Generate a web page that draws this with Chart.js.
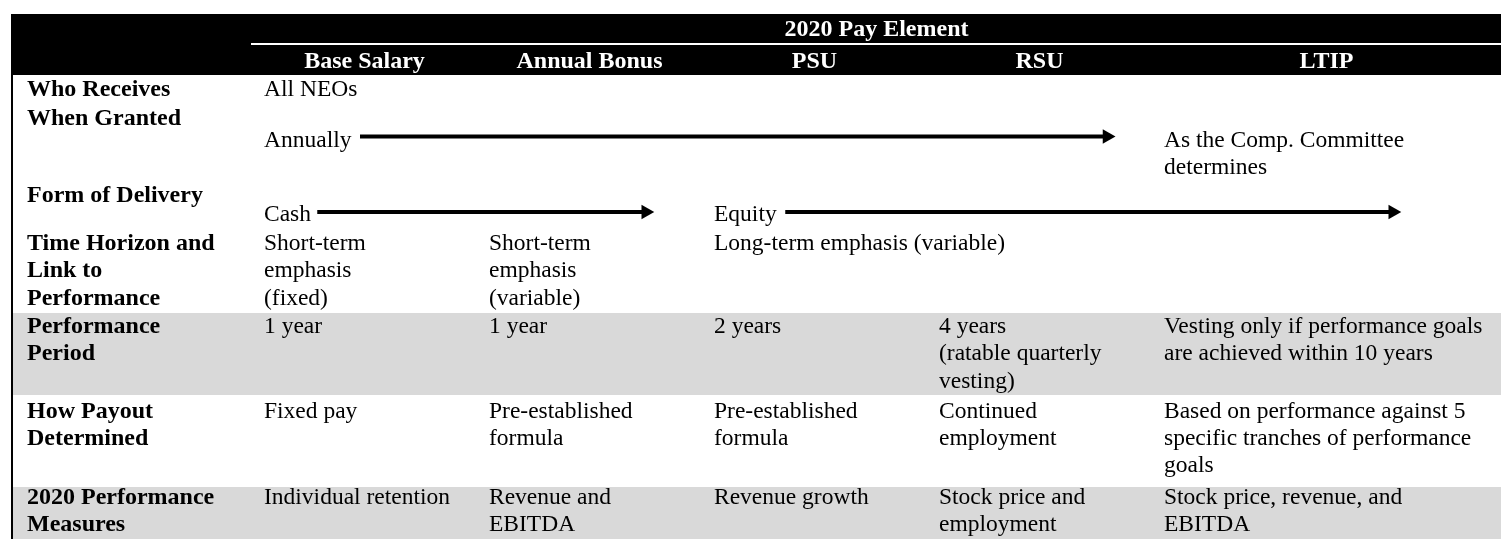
<!DOCTYPE html>
<html>
<head>
<meta charset="utf-8">
<script src="https://cdn.jsdelivr.net/npm/chart.js@4"></script>
<style>
  html, body { margin: 0; padding: 0; background: #fff; }
  #wrap { width: 1501px; height: 539px; }
</style>
</head>
<body>
<div id="wrap"><canvas id="chart" width="1501" height="539"></canvas></div>
<script>
// table content
const headerTitle = '2020 Pay Element';
const payElements = ['Base Salary', 'Annual Bonus', 'PSU', 'RSU', 'LTIP'];
const rowLabels = [
  ['Who Receives'],
  ['When Granted'],
  ['Form of Delivery'],
  ['Time Horizon and', 'Link to', 'Performance'],
  ['Performance', 'Period'],
  ['How Payout', 'Determined'],
  ['2020 Performance', 'Measures']
];
const whoReceives = [['All NEOs'], null, null, null, null];
const whenGranted = [['Annually'], null, null, null, ['As the Comp. Committee', 'determines']];
const formOfDelivery = [['Cash'], null, ['Equity'], null, null];
const timeHorizon = [['Short-term', 'emphasis', '(fixed)'], ['Short-term', 'emphasis', '(variable)'], ['Long-term emphasis (variable)'], null, null];
const performancePeriod = [['1 year'], ['1 year'], ['2 years'], ['4 years', '(ratable quarterly', 'vesting)'], ['Vesting only if performance goals', 'are achieved within 10 years']];
const howPayout = [['Fixed pay'], ['Pre-established', 'formula'], ['Pre-established', 'formula'], ['Continued', 'employment'], ['Based on performance against 5', 'specific tranches of performance', 'goals']];
const performanceMeasures = [['Individual retention'], ['Revenue and', 'EBITDA'], ['Revenue growth'], ['Stock price and', 'employment'], ['Stock price, revenue, and', 'EBITDA']];
const cellRows = [whoReceives, whenGranted, formOfDelivery, timeHorizon, performancePeriod, howPayout, performanceMeasures];

// arrows: which row, and from/to in pay-element column units
const arrowRows = [1, 2, 2];
const arrowFrom = [0.48, 0.29, 2.37];
const arrowTo = [3.80, 1.75, 5.07];

// layout (pixels on the y scale, column units on the x scale)
const LH = 27.4;
const X_MIN = -1.12, X_MAX = 5.5511, TABLE_LEFT = -1.0711;
const rowLayout = [
  { labelY: 96, cellY: 96 },
  { labelY: 124.5, cellY: 146.5, arrowY: 136.5 },
  { labelY: 202, cellY: 221, arrowY: 212 },
  { labelY: 250, cellY: 250 },
  { labelY: 333, cellY: 333, band: [313, 395] },
  { labelY: 417.5, cellY: 417.5 },
  { labelY: 503.5, cellY: 503.5, band: [487, 560] }
];
const FONT = '"Liberation Serif", "Times New Roman", serif';

const datasets = arrowRows.map((r, i) => ({
  data: [{ x: arrowFrom[i], y: rowLayout[r].arrowY }, { x: arrowTo[i], y: rowLayout[r].arrowY }],
  borderColor: '#000',
  backgroundColor: '#000',
  borderWidth: 4,
  pointStyle: 'triangle',
  pointRotation: 90,
  pointRadius: [0, 8.5],
  pointBorderWidth: 0,
  pointHoverRadius: [0, 8.5],
  pointBackgroundColor: '#000'
}));

const tablePlugin = {
  id: 'tablePlugin',
  beforeDatasetsDraw(chart) {
    const { ctx, scales: { x, y } } = chart;
    const left = x.getPixelForValue(TABLE_LEFT);
    const right = x.getPixelForValue(X_MAX);
    ctx.save();
    // grey bands
    ctx.fillStyle = '#d9d9d9';
    rowLayout.forEach(r => {
      if (!r.band) return;
      const t = y.getPixelForValue(r.band[0]);
      const b = y.getPixelForValue(Math.min(r.band[1], 539));
      ctx.fillRect(left, t, right - left, b - t);
    });
    // header band
    ctx.fillStyle = '#000';
    const hTop = y.getPixelForValue(14), hBot = y.getPixelForValue(75);
    ctx.fillRect(left, hTop, right - left, hBot - hTop);
    ctx.fillStyle = '#fff';
    const c0 = x.getPixelForValue(0) - 1;
    ctx.fillRect(c0, y.getPixelForValue(43), right - c0, 2);
    // left border
    ctx.fillStyle = '#000';
    ctx.fillRect(left, hBot, 2, y.getPixelForValue(539) - hBot);
    ctx.restore();
  },
  afterDraw(chart) {
    const { ctx, scales: { x, y } } = chart;
    ctx.save();
    ctx.textBaseline = 'alphabetic';
    // header text
    ctx.fillStyle = '#fff';
    ctx.font = 'bold 24px ' + FONT;
    ctx.textAlign = 'center';
    ctx.fillText(headerTitle, (x.getPixelForValue(0) + x.getPixelForValue(X_MAX)) / 2, y.getPixelForValue(36));
    payElements.forEach((p, i) => {
      const end = i === payElements.length - 1 ? X_MAX : i + 1;
      ctx.fillText(p, (x.getPixelForValue(i) + x.getPixelForValue(end)) / 2, y.getPixelForValue(67.5));
    });
    // row labels and cells
    ctx.fillStyle = '#000';
    ctx.textAlign = 'left';
    rowLabels.forEach((lines, r) => {
      ctx.font = 'bold 24px ' + FONT;
      lines.forEach((s, k) => {
        ctx.fillText(s, x.getPixelForValue(TABLE_LEFT) + 16, y.getPixelForValue(rowLayout[r].labelY + k * LH));
      });
      ctx.font = '23.5px ' + FONT;
      cellRows[r].forEach((cell, c) => {
        if (!cell) return;
        cell.forEach((s, k) => {
          ctx.fillText(s, x.getPixelForValue(c) + 12, y.getPixelForValue(rowLayout[r].cellY + k * LH));
        });
      });
    });
    ctx.restore();
  }
};

new Chart(document.getElementById('chart'), {
  type: 'line',
  data: { datasets },
  options: {
    responsive: false,
    animation: false,
    events: [],
    layout: { padding: 0, autoPadding: false },
    plugins: { legend: { display: false }, tooltip: { enabled: false } },
    scales: {
      x: { type: 'linear', display: false, min: X_MIN, max: X_MAX },
      y: { type: 'linear', display: false, reverse: true, min: 0, max: 539 }
    }
  },
  plugins: [tablePlugin]
});
</script>
</body>
</html>
